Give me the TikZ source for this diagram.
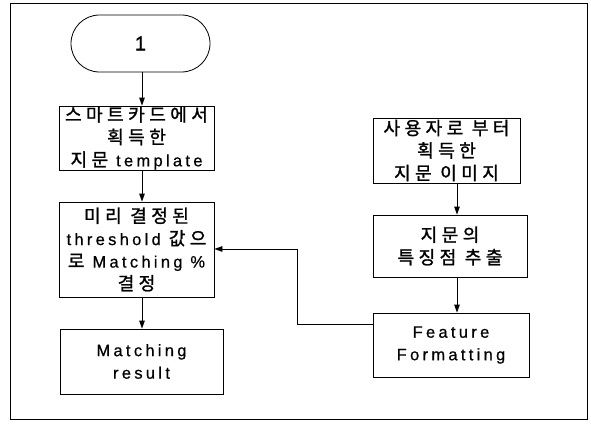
\documentclass[tikz,border=0pt]{standalone}
\usepackage{fontspec}
\setmainfont{Liberation Sans}[LetterSpace=20,FakeBold=0.6]
\newfontfamily\kr{Noto Sans CJK KR}[LetterSpace=24,Scale=1.1,FakeBold=1.2]
\usetikzlibrary{arrows.meta,shapes.misc}
\begin{document}
\begin{tikzpicture}[x=1pt,y=-1pt,
  box/.style={draw, line width=0.8pt, inner sep=0pt, align=center,
    font=\fontsize{16.5}{22.5}\selectfont},
  arr/.style={-{Triangle[length=8pt,width=5.5pt]}, line width=0.8pt}]
\useasboundingbox (0,0) rectangle (591,423);
\draw[line width=0.9pt] (10,3) rectangle (587,419);

\node[box, shape=rounded rectangle, minimum width=139pt, minimum height=57pt,
  font=\fontsize{20}{24}\selectfont\addfontfeature{FakeBold=1.5}] (t1) at (140.5,43.5) {1};
\node[box, minimum width=155pt, minimum height=64pt] (b1) at (136.5,138)
  {{\kr 스마트카드에서}\\{\kr 획득한}\\{\kr 지문} template};
\node[box, minimum width=155pt, minimum height=95pt] (b2) at (136.5,249.5)
  {{\kr 미리 결정된}\\threshold {\kr 값으}\\{\kr 로} Matching \%\\{\kr 결정}};
\node[box, minimum width=163pt, minimum height=65pt] (b3) at (141.5,361.5)
  {Matching\\result};
\node[box, minimum width=147pt, minimum height=65pt] (bA) at (446.5,150.5)
  {{\kr 사용자로 부터}\\{\kr 획득한}\\{\kr 지문 이미지}};
\node[box, minimum width=154pt, minimum height=62pt] (bB) at (450,246)
  {{\kr 지문의}\\{\kr 특징점 추출}};
\node[box, minimum width=156pt, minimum height=64pt] (bC) at (451,345)
  {Feature\\Formatting};

\coordinate (cl) at (142,0);
\coordinate (cr) at (457,0);
\coordinate (j) at (297,249);

\draw[arr] (t1.south -| cl) -- (b1.north -| cl);
\draw[arr] (b1.south -| cl) -- (b2.north -| cl);
\draw[arr] (b2.south -| cl) -- (b3.north -| cl);
\draw[arr] (bA.south -| cr) -- (bB.north -| cr);
\draw[arr] (bB.south -| cr) -- (bC.north -| cr);
\draw[arr] ([yshift=21pt]bC.west) -| (j) -- (j -| b2.east);
\end{tikzpicture}
\end{document}
